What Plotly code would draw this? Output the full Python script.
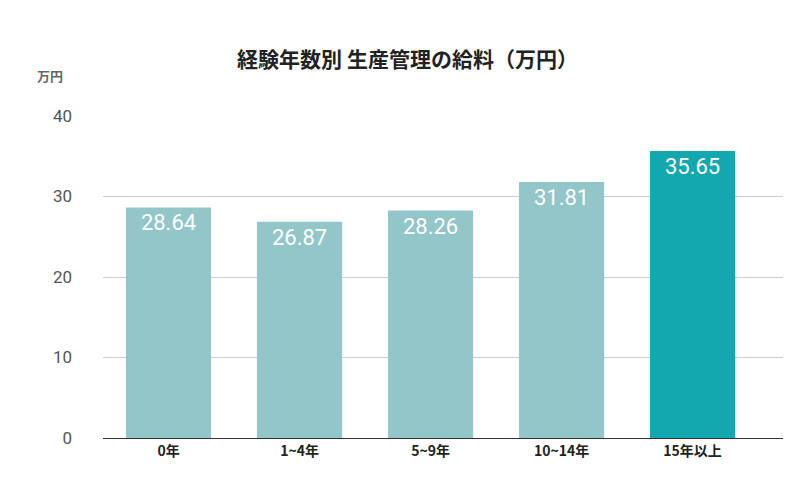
import plotly.graph_objects as go

categories = ["0年", "1~4年", "5~9年", "10~14年", "15年以上"]
values = [28.64, 26.87, 28.26, 31.81, 35.65]
colors = ["#92C6C9", "#92C6C9", "#92C6C9", "#92C6C9", "#13A8AF"]

fig = go.Figure(go.Bar(
    x=categories, y=values, marker_color=colors, marker_line_width=0,
    text=[f"{v:.2f}" for v in values], textposition="inside", insidetextanchor="end",
    textfont=dict(color="white", size=22, family="Roboto"),
    width=0.65,
))
fig.update_layout(
    width=799, height=494, plot_bgcolor="white", paper_bgcolor="white",
    margin=dict(l=95, r=24, t=108, b=64),
    title=dict(text="<b>経験年数別 生産管理の給料（万円）</b>", x=0.5, xanchor="center", y=0.91,
               font=dict(size=21, color="#222", family="Noto Sans CJK JP")),
    showlegend=False,
    yaxis=dict(range=[0, 40], dtick=10, gridcolor="#CCCCCC", zeroline=False,
               tickfont=dict(size=17, color="#555", family="Roboto"), ticklabelstandoff=30),
    xaxis=dict(showline=True, linecolor="#333", linewidth=1, range=[-0.5, 4.69],
               tickfont=dict(size=14, color="#222", family="Noto Sans CJK JP", weight="bold")),
    annotations=[dict(text="<b>万円</b>", xref="paper", yref="paper", x=-0.1, y=1.127,
                      xanchor="left", yanchor="middle", showarrow=False,
                      font=dict(size=13, color="#666", family="Noto Sans CJK JP"))],
)
fig.write_html("out.html")
